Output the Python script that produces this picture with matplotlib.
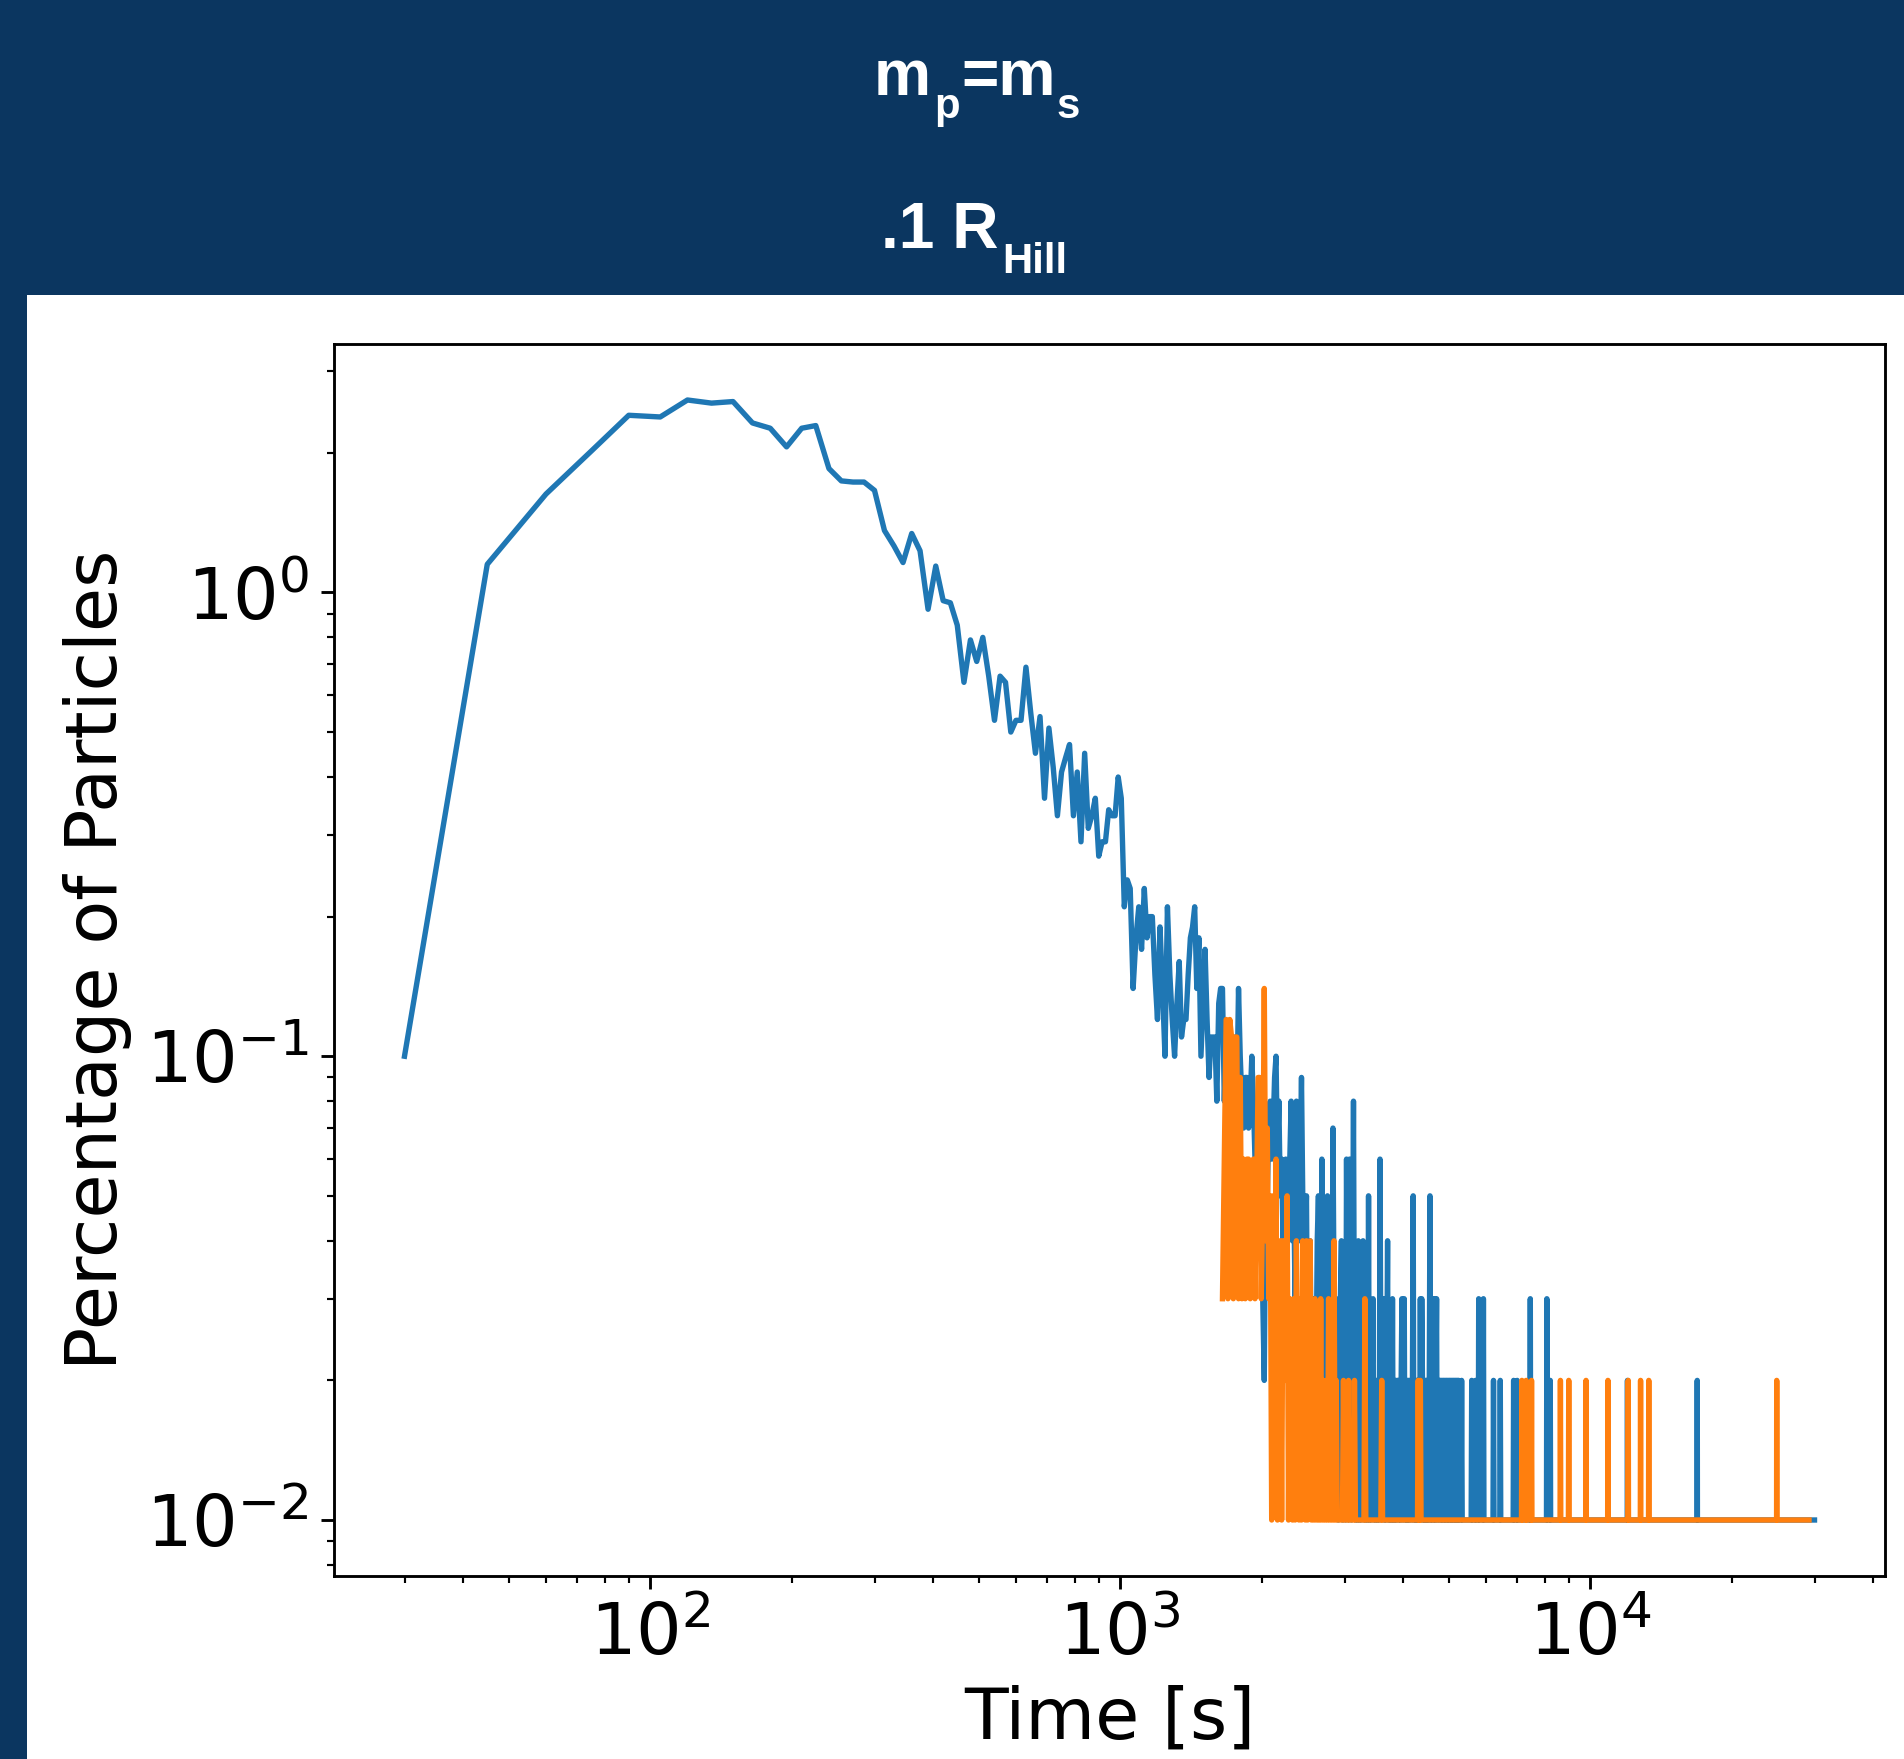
import numpy as np
import matplotlib
matplotlib.use('Agg')
import matplotlib.pyplot as plt
from matplotlib.patches import Rectangle

# counts of particles per 15 s time bin, out of 10000 particles
n_particles = 10000
bin_width = 15
floor_n = 1  # the flat floor seen in the tail (0.01 %)

# blue run: contiguous bins from 30 s up to 4695 s, then isolated spikes
blue_start = 30
blue_end = 30000
blue_head = [
    10, 115, 163, 202, 241, 239, 260, 256, 258, 232,
    226, 206, 226, 229, 185, 174, 173, 173, 166, 136,
    126, 116, 134, 123, 92, 114, 96, 95, 85, 64,
    79, 71, 80, 66, 53, 66, 64, 50, 53, 53,
    69, 55, 45, 54, 36, 51, 42, 33, 41, 44,
    47, 33, 41, 29, 45, 31, 33, 36, 27, 29,
    29, 34, 33, 33, 40, 36,
    # 1020 s
    21, 24, 23, 14, 18, 21, 17, 23, 18, 20,
    20, 15, 12, 19, 14, 10, 21, 15, 12, 10,
    13, 16, 11, 12, 12, 15, 18, 19, 21, 14,
    18, 10, 13, 17, 12, 9, 11, 11, 11, 8,
    13, 14, 14,
    # 1665 s
    8, 11, 6, 9, 7, 10, 11, 8, 14, 10,
    8, 7, 9, 9, 7, 8, 10, 8, 6, 5,
    4, 6, 4, 3, 2, 6, 5, 7, 8, 6,
    7, 9, 10, 6, 8, 5, 6, 4, 5, 6,
    4, 5, 6, 8, 4, 5, 3, 8, 5, 4,
    6, 9, 5, 3, 4, 5, 2,
    # 2520 s
    3, 4, 2, 3, 2, 3, 2, 4, 5, 3,
    2, 6, 3, 2, 3, 2, 5, 3, 2, 3,
    2, 7, 3, 2, 3, 2, 1, 2, 3, 4,
    1, 2, 3, 1, 6, 2, 1, 6, 2, 1,
    3, 8, 2, 1, 2, 1, 4, 1, 2, 1,
    3, 4, 1, 2, 1, 2, 1, 5, 1, 2,
    1, 2, 3, 1, 2, 1,
    # 3510 s
    2, 1, 2, 1, 6, 2, 1, 2, 3, 1,
    2, 1, 2, 4, 1, 2, 1, 2, 1, 3,
    1, 2, 1, 2, 1, 2, 2, 1, 2, 1,
    2, 3, 1, 2, 3, 1, 2, 1, 2, 1,
    2, 1, 2, 2, 1, 2, 5, 1, 2, 1,
    2, 1, 2, 1, 2, 1, 3, 1, 3, 2,
    1, 2, 1, 2, 1, 2, 1, 2, 1, 2,
    5, 1, 2, 1, 3, 2, 1, 3, 1, 2,
]
blue_spike_t = [4710, 4740, 4755, 4785, 4800, 4830, 4860, 4875, 4905, 4935,
                4950, 4980, 5010, 5025, 5055, 5085, 5115, 5130, 5160, 5190,
                5220, 5250, 5325, 5595, 5700, 5790, 5925, 6225, 6435, 6870,
                6990, 7455, 8085, 8220, 12000, 16890]
blue_spike_n = [3, 2, 2, 2, 2, 2, 2, 2, 2, 2,
                2, 2, 2, 2, 2, 2, 2, 2, 2, 2,
                2, 2, 2, 2, 2, 3, 3, 2, 2, 2,
                2, 3, 3, 2, 2, 2]

# orange run: starts at 1650 s
orange_start = 1650
orange_end = 29205
orange_head = [
    3, 6, 12, 3, 12, 11, 3, 11, 11, 3,
    9, 3, 6, 3, 6, 6, 3, 5, 6, 3,
    5, 9, 9, 3, 5, 14, 4, 7, 3, 5,
    1, 5, 2, 6, 1, 3, 4, 1, 4, 4,
    2, 5, 1, 3, 2, 1, 3, 1, 4, 2,
    1, 3, 1, 4, 2, 1, 4, 1, 3, 4,
    1, 2, 1, 3, 1, 2, 1, 1, 3, 1,
    2, 1, 1, 2, 1, 3, 1, 1, 2, 1,
    4, 1, 2, 1, 1,
]
orange_spike_t = [2985, 3060, 3150, 3315, 3600, 4305, 4350, 7155, 7305, 7500,
                  8640, 9000, 9795, 10905, 12045, 12795, 13320, 24930]
orange_spike_n = [2, 2, 2, 3, 2, 2, 2, 2, 2, 2,
                  2, 2, 2, 2, 2, 2, 2, 2]

navy = '#0b3660'
DPI = 258


def build(start, end, head, spike_t, spike_n):
    t = np.arange(start, end + 1, bin_width)
    n = np.full(len(t), floor_n, dtype=float)
    n[:len(head)] = head
    idx = (np.array(spike_t) - start) // bin_width
    n[idx] = spike_n
    return t, n / n_particles * 100


blue_t, blue_pct = build(blue_start, blue_end, blue_head, blue_spike_t, blue_spike_n)
orange_t, orange_pct = build(orange_start, orange_end, orange_head, orange_spike_t, orange_spike_n)

plt.rcParams['font.size'] = 20

fig = plt.figure(figsize=(1904 / DPI, 1759 / DPI), dpi=DPI)
fig.patch.set_facecolor(navy)
# white slide area under the header
fig.add_artist(Rectangle((27 / 1904, 0), 1, (1759 - 295) / 1759, transform=fig.transFigure,
                         facecolor='white', edgecolor='none', zorder=-1))

# header text, pieces placed by hand to get the slide-style subscripts
hfont = dict(family='Liberation Sans', weight='bold', color='white', va='baseline', ha='left')
big, small = 17.9, 11.7


def fx(px):
    return px / 1904


def fy(px):
    return 1 - px / 1759


fig.text(fx(874), fy(95), 'm', fontsize=big, **hfont)
fig.text(fx(934), fy(118), 'p', fontsize=small, **hfont)
fig.text(fx(961), fy(95), '=m', fontsize=big, **hfont)
fig.text(fx(1057), fy(118), 's', fontsize=small, **hfont)
fig.text(fx(881), fy(248), '.1 R', fontsize=big, **hfont)
fig.text(fx(1002), fy(273), 'Hill', fontsize=small, **hfont)

ax = fig.add_axes([334 / 1904, 1 - 1576 / 1759, (1885 - 334) / 1904, (1576 - 344) / 1759])
ax.plot(blue_t, blue_pct)
ax.plot(orange_t, orange_pct)
ax.set_xscale('log')
ax.set_yscale('log')
ax.set_xlabel('Time [s]')
ax.set_ylabel('Percentage of Particles')

fig.savefig('out.png', dpi=DPI, facecolor=fig.get_facecolor())
